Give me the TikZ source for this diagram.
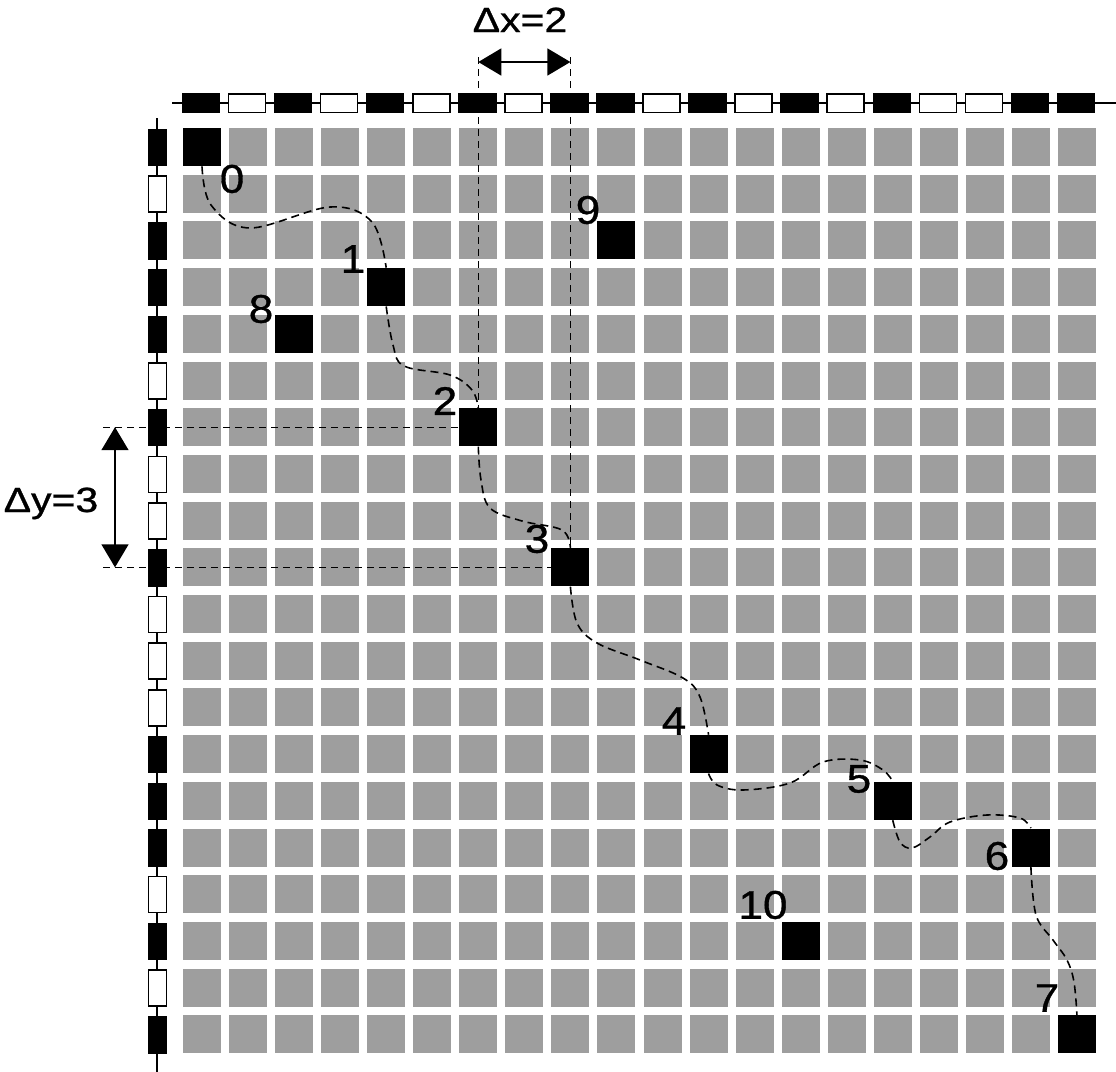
\documentclass[tikz,border=0pt]{standalone}
\usepackage{fontspec}
\setmainfont{Liberation Sans}
\newfontfamily\labfont[FakeBold=0.8]{Liberation Sans}
\usetikzlibrary{arrows.meta}
\definecolor{sqgray}{gray}{0.62}
\begin{document}
\begin{tikzpicture}[x=0.5pt,y=-0.5pt,
  blk/.style={fill=black,draw=none,inner sep=0pt,minimum size=19pt},
  barb/.style={fill=black,draw=black,line width=0.75pt},
  barw/.style={fill=white,draw=black,line width=0.75pt},
  guide/.style={draw=black,line width=0.7pt,dash pattern=on 3.5pt off 2.5pt},
  route/.style={draw=black,line width=0.8pt,dash pattern=on 4pt off 2.5pt},
  dimarrow/.style={draw=black,line width=0.75pt,{Triangle[length=11.5pt,width=13.5pt]}-{Triangle[length=11.5pt,width=13.5pt]}},
  lab/.style={inner sep=0pt,font=\labfont\fontsize{20}{24}\selectfont},
  dlab/.style={inner sep=0pt,font=\labfont\fontsize{17.5}{21}\selectfont}]
\useasboundingbox (0,0) rectangle (1116,1072);
% axes lines
\draw[line width=0.75pt] (172,103) -- (1116,103);
\draw[line width=0.75pt] (157,118) -- (157,1072);
% top bar
\foreach \c/\s in {0/barb,1/barw,2/barb,3/barw,4/barb,5/barw,6/barb,7/barw,8/barb,9/barb,10/barw,11/barb,12/barw,13/barb,14/barw,15/barb,16/barw,17/barw,18/barb,19/barb}
  \draw[\s] ({182.5+46.05*\c},94) rectangle ++(37,18.5);
% left bar
\foreach \r/\s in {0/barb,1/barw,2/barb,3/barb,4/barb,5/barw,6/barb,7/barw,8/barw,9/barb,10/barw,11/barw,12/barw,13/barb,14/barb,15/barb,16/barw,17/barb,18/barw,19/barb}
  \draw[\s] (148.5,{129.5+46.7*\r}) rectangle ++(18,36);
% gray grid
\foreach \c in {0,...,19}
  \foreach \r in {0,...,19}
    \fill[sqgray] ({183+46.05*\c},{128+46.7*\r}) rectangle ++(38,38);
% black squares
\node[blk] (s0) at ({202+46.05*0},{147+46.7*0}) {};
\node[blk] (s1) at ({202+46.05*4},{147+46.7*3}) {};
\node[blk] (s2) at ({202+46.05*6},{147+46.7*6}) {};
\node[blk] (s3) at ({202+46.05*8},{147+46.7*9}) {};
\node[blk] (s4) at ({202+46.05*11},{147+46.7*13}) {};
\node[blk] (s5) at ({202+46.05*15},{147+46.7*14}) {};
\node[blk] (s6) at ({202+46.05*18},{147+46.7*15}) {};
\node[blk] (s7) at ({202+46.05*19},{147+46.7*19}) {};
\node[blk] (s8) at ({202+46.05*2},{147+46.7*4}) {};
\node[blk] (s9) at ({202+46.05*9},{147+46.7*2}) {};
\node[blk] (s10) at ({202+46.05*13},{147+46.7*17}) {};
% labels
\node[lab] (l0) at (232,179) {\scalebox{1.1}[1]{0}};
\node[lab] (l1) at (353,259) {\scalebox{1.1}[1]{1}};
\node[lab] (l2) at (445,401) {\scalebox{1.1}[1]{2}};
\node[lab] (l3) at (537,539) {\scalebox{1.1}[1]{3}};
\node[lab] (l4) at (674,721) {\scalebox{1.1}[1]{4}};
\node[lab] (l5) at (859,779) {\scalebox{1.1}[1]{5}};
\node[lab] (l6) at (997,856) {\scalebox{1.1}[1]{6}};
\node[lab] (l7) at (1047,998) {\scalebox{1.1}[1]{7}};
\node[lab] (l8) at (261,309) {\scalebox{1.1}[1]{8}};
\node[lab] (l9) at (588,210) {\scalebox{1.1}[1]{9}};
\node[lab] (l10) at (763,905) {\scalebox{1.1}[1]{10}};
% dashed guides
\coordinate (gxa) at ({202+46.05*6},57);
\coordinate (gxb) at ({202+46.05*8},57);
\coordinate (gya) at (103,{147+46.7*6});
\coordinate (gyb) at (103,{147+46.7*9});
\draw[guide] (gxa) -- (s2.north);
\draw[guide] (gxb) -- (s3.north);
\draw[guide] (gya) -- (s2.west);
\draw[guide] (gyb) -- (s3.west);
% dimension arrows
\coordinate (axl) at ({202+46.05*6},62);
\coordinate (axr) at ({202+46.05*8},62);
\coordinate (ayt) at (115,{147+46.7*6});
\coordinate (ayb) at (115,{147+46.7*9});
\draw[dimarrow] (axl) -- (axr);
\draw[dimarrow] (ayt) -- (ayb);
\node[dlab,anchor=base] (ldx) at (520,32) {\scalebox{1.17}[1]{Δx=2}};
\node[dlab,anchor=base] (ldy) at (51,512) {\scalebox{1.17}[1]{Δy=3}};
% route
\draw[route] plot[smooth,tension=0.6] coordinates {(s0.south) (211,205) (250,228) (330,207) (372,222) (s1.north)};
\draw[route] plot[smooth,tension=0.6] coordinates {(s1.south) (393,345) (404,366) (450,375) (472,390) (s2.north)};
\draw[route] plot[smooth,tension=0.6] coordinates {(s2.south) (481,480) (490,508) (522,521) (562,530) (s3.north)};
\draw[route] plot[smooth,tension=0.6] coordinates {(s3.south) (577,623) (597,643) (640,660) (683,678) (700,697) (s4.north)};
\draw[route] plot[smooth,tension=0.6] coordinates {(s4.south) (717,785) (743,790) (790,783) (823,762) (860,760) (883,770) (s5.north)};
\draw[route] plot[smooth,tension=0.6] coordinates {(s5.south) (900,842) (912,848) (930,837) (950,822) (987,815) (1020,818) (s6.north)};
\draw[route] plot[smooth,tension=0.6] coordinates {(s6.south) (1036,915) (1053,940) (1067,960) (1074,982) (s7.north)};
\end{tikzpicture}
\end{document}
